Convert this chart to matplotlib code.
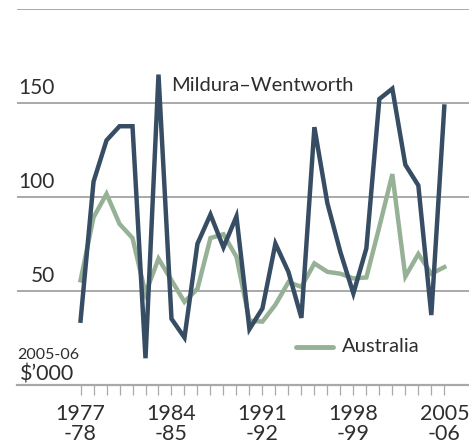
import matplotlib.pyplot as plt

# Farm cash income, 2005-06 $'000
years = list(range(1977, 2006))
mildura = [34, 108, 130, 137.5, 137.5, 14, 165, 35, 25, 75,
           90.5, 73, 89.5, 29.5, 40.5, 75, 60, 35.5, 137, 96.5,
           70.5, 48.5, 72.5, 152, 157.5, 117, 106, 37, 148]
australia = [55.5, 89, 101.5, 85.5, 78, 48.5, 67, 55.5, 44, 51,
             78, 80, 68, 34, 33.5, 42.5, 54.5, 52, 64.5, 60,
             59, 56.5, 57, 84, 112, 57.5, 69.5, 59, 62.5]
label_years = [1977, 1984, 1991, 1998, 2005]
label_text = ['1977\n-78', '1984\n-85', '1991\n-92', '1998\n-99', '2005\n-06']
yticks = [50, 100, 150]

dark = '#364d64'
green = '#97b197'
grid = '#a9a9a9'
txt = '#2e2e2e'

plt.rcParams['font.family'] = ['Lato', 'DejaVu Sans']

fig = plt.figure(figsize=(4.69, 4.41), dpi=100)
ax = fig.add_axes([0.036, 0.128, 0.964, 0.852])

for v in yticks + [200]:
    ax.axhline(v, color=grid, lw=1.4, zorder=1)
ax.axhline(0, color=grid, lw=1.6, zorder=1, clip_on=False)

ax.plot(years, australia, color=green, lw=3.2, solid_joinstyle='miter', zorder=2)
ax.plot(years, mildura, color=dark, lw=3.2, solid_joinstyle='miter', zorder=3)

ax.set_xlim(1972.1, 2006.9)
ax.set_ylim(0, 200)
for s in ax.spines.values():
    s.set_visible(False)
ax.set_yticks([])
ax.set_xticks(years)
ax.set_xticklabels([])
ax.tick_params(axis='x', length=7, width=0.9, color=grid, direction='out', pad=2)

for v in yticks:
    ax.text(1975.0, v + 2.5, str(v), ha='right', va='bottom', fontsize=15,
            color=txt)

for y, t in zip(label_years, label_text):
    ax.text(y, -10.5, t, ha='center', va='top', fontsize=15.5, color=txt,
            linespacing=1.0, clip_on=False)

ax.text(1984.0, 159, 'Mildura\u2013Wentworth', fontsize=14.5, color=txt,
        va='center')
ax.plot([1993.6, 1996.4], [20, 20], color=green, lw=3.5, solid_capstyle='round')
ax.text(1997.1, 20, 'Australia', fontsize=14.5, color=txt, va='center')

ax.text(1972.1, 15.5, '2005-06', fontsize=11.5, color=txt, va='center', ha='left')
ax.text(1972.3, 5.5, "$\u2019000", fontsize=15.5, color=txt, va='center', ha='left')

fig.savefig('out.png', dpi=100)
